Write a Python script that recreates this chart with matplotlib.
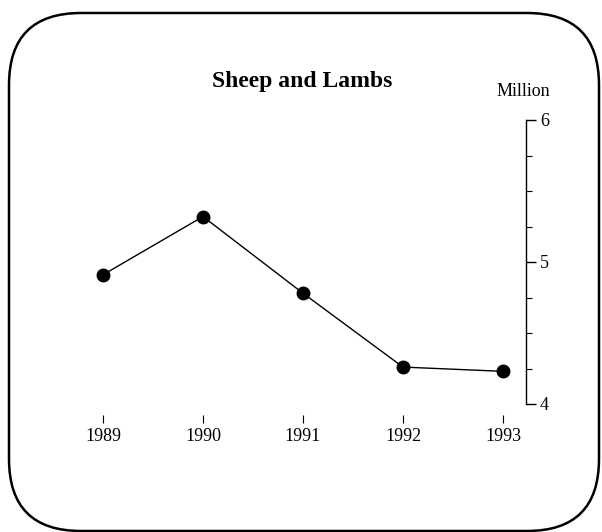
import matplotlib.pyplot as plt
from matplotlib.patches import FancyBboxPatch
from matplotlib.ticker import MultipleLocator

years = [1989, 1990, 1991, 1992, 1993]
sheep = [4.91, 5.32, 4.78, 4.26, 4.23]

plt.rcParams['font.family'] = ['Liberation Serif', 'DejaVu Serif']

W, H = 602, 532
fig = plt.figure(figsize=(W / 100, H / 100), dpi=100)

# rounded frame round the whole chart (pixel coords turned into figure fractions)
frame = FancyBboxPatch((9 / W, 1 / H), 590 / W, 518 / H,
                       boxstyle="round,pad=0,rounding_size=%f" % (72 / W),
                       transform=fig.transFigure, fill=False,
                       edgecolor="black", linewidth=1.8,
                       mutation_aspect=W / H)
fig.patches.append(frame)

ax = fig.add_axes([63 / W, 128 / H, 463 / W, 284 / H])
ax.plot(years, sheep, color="black", linewidth=1.0,
        marker="o", markersize=9)

ax.set_xlim(1988.6, 1993.23)
ax.set_ylim(4, 6)

for s in ["top", "left"]:
    ax.spines[s].set_visible(False)
ax.spines["bottom"].set_position(("outward", 8))
ax.spines["bottom"].set_visible(False)
ax.spines["right"].set_linewidth(1.0)

ax.set_xticks(years)
ax.set_xticklabels([str(y) for y in years])
ax.tick_params(axis="x", length=6, width=0.8, pad=3, labelsize=13)

ax.yaxis.tick_right()
ax.set_yticks([4, 5, 6])
ax.yaxis.set_minor_locator(MultipleLocator(0.25))
ax.tick_params(axis="y", which="major", length=7, width=1.0, pad=3, labelsize=13)
ax.tick_params(axis="y", which="minor", length=4, width=0.8)

fig.text(302 / W, 1 - 81 / H, "Sheep and Lambs", ha="center", va="center",
         fontsize=17, fontweight="bold")
fig.text(523 / W, 1 - 91 / H, "Million", ha="center", va="center",
         fontsize=13)

fig.savefig("out.png", dpi=100)
